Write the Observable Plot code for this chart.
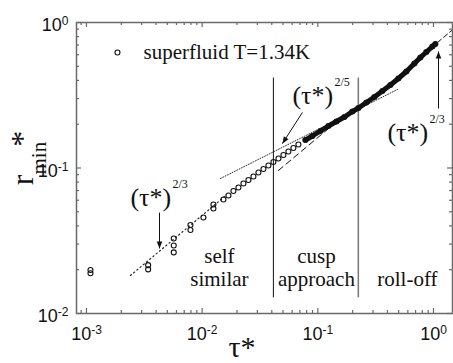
<!DOCTYPE html>
<html><head><meta charset="utf-8">
<script src="https://cdn.jsdelivr.net/npm/d3@7"></script>
<script src="https://cdn.jsdelivr.net/npm/@observablehq/plot@0.6"></script>
<style>body{margin:0;background:#fff;}</style>
</head><body><div id="chart"></div>
<script>
// ---- data ----
const tau = [0.001083,0.001083, 0.003414,0.003414, 0.005682,0.005682,0.005682, 0.007922,0.007922, 0.01026, 0.01252,0.01252,
  0.01528,0.01688,0.01864,0.02059,0.02275,0.02513,0.02776,0.03066,0.03387,0.03741,0.04132,0.04565,0.05042,0.05569,0.06152,0.06796,
  0.07812,0.08982,0.1053,0.1235,0.1448,0.1698,0.1991,0.2244,0.2630,0.3084,0.3616,0.4240,0.4971,0.5830,0.6835,0.7705,0.8682,0.9782,1.038];
const rmin = [0.0189,0.0199, 0.0201,0.0215, 0.0263,0.0293,0.0328, 0.0375,0.0406, 0.0457, 0.0527,0.0561,
  0.0607,0.0647,0.0695,0.0735,0.0782,0.0827,0.0874,0.0931,0.0984,0.1040,0.1100,0.1162,0.1228,0.1298,0.1372,0.1450,
  0.1557,0.1660,0.1796,0.1943,0.2088,0.2241,0.2444,0.2585,0.2819,0.3076,0.3382,0.3719,0.4122,0.4605,0.5226,0.5746,0.6269,0.6840,0.7115];

// power-law guide lines (endpoints)
const fit23low = [{t:0.0024, r:0.01825},{t:0.016, r:0.0646}];
const fit25    = [{t:0.0144, r:0.0847},{t:0.49, r:0.347}];
const fit23mid = [{t:0.0456, r:0.0961},{t:0.15, r:0.212}];
const fit23top = [{t:0.75, r:0.571},{t:1.46, r:0.890}];

// regime boundaries
const dividers = [0.0413, 0.224];
const dividerSpan = [0.0128, 0.415];

// arrows
const arrows = [
  {t1:0.00428, r1:0.0494, t2:0.00428, r2:0.0280},
  {t1:0.0736, r1:0.241, t2:0.0494, r2:0.147},
  {t1:1.105, r1:0.2565, t2:1.105, r2:0.632}
];
// annotation labels
const powerLabels = [
  {t:0.0024, r:0.0627, base:"(τ*)", exp:"2/3"},
  {t:0.0603, r:0.315, base:"(τ*)", exp:"2/5"},
  {t:0.3996, r:0.1754, base:"(τ*)", exp:"2/3"}
];
const regimes = [
  {t:0.01411, r:0.0209, label:"self\nsimilar"},
  {t:0.0973, r:0.0209, label:"cusp\napproach"},
  {t:0.5948, r:0.0174, label:"roll-off"}
];
const legend = [{t:0.001854, r:0.622, label:"superfluid T=1.34K"}];

// ticks
const xMajor = [0.001, 0.01, 0.1, 1];
const xMinor = [0.0009, 0.002,0.003,0.004,0.005,0.006,0.007,0.008,0.009,
  0.02,0.03,0.04,0.05,0.06,0.07,0.08,0.09, 0.2,0.3,0.4,0.5,0.6,0.7,0.8,0.9];
const yMajor = [0.01, 0.1, 1];
const yMinor = [0.02,0.03,0.04,0.05,0.06,0.07,0.08,0.09, 0.2,0.3,0.4,0.5,0.6,0.7,0.8,0.9];

// ---- chart ----
const W = 453, H = 363, mT = 22, mR = 1, mB = 50, mL = 76;
const pw = W - mL - mR, ph = H - mT - mB;
const axisColor = "#6a6a6a";
const serif = "'Liberation Serif', 'Times New Roman', serif";
const sans = "'Liberation Sans', Arial, sans-serif";
const pts = tau.map((t, i) => ({t, r: rmin[i]}));
const expFmt = d => String(Math.round(Math.log10(d)));

const chart = Plot.plot({
  width: W, height: H,
  marginTop: mT, marginRight: mR, marginBottom: mB, marginLeft: mL,
  x: {type: "log", domain: [8.2e-4, 1.46]},
  y: {type: "log", domain: [0.01, 1]},
  style: {background: "white", fontFamily: sans, color: "#111"},
  marks: [
    Plot.ruleX([dividers[0]], {y1: dividerSpan[0], y2: dividerSpan[1], stroke: "#111", strokeWidth: 1}),
    Plot.ruleX([dividers[1]], {y1: dividerSpan[0], y2: dividerSpan[1], stroke: "#777", strokeWidth: 1.5}),
    Plot.line(fit23low, {x: "t", y: "r", stroke: "#222", strokeWidth: 1.2, strokeDasharray: "1.2,3"}),
    Plot.line(fit25, {x: "t", y: "r", stroke: "#333", strokeWidth: 1, strokeDasharray: "1,1.6"}),
    Plot.line(fit23mid, {x: "t", y: "r", stroke: "#111", strokeWidth: 1, strokeDasharray: "6,4"}),
    Plot.line(fit23top, {x: "t", y: "r", stroke: "#111", strokeWidth: 1, strokeDasharray: "5,3"}),
    Plot.line(pts.filter(d => d.t > 0.07), {x: "t", y: "r", stroke: "#111", strokeWidth: 5}),
    Plot.dot(pts, {x: "t", y: "r", r: 2.5, stroke: "#111", strokeWidth: 1.1, fill: "none"}),
    Plot.link(arrows, {x1: "t1", y1: "r1", x2: "t2", y2: "r2", stroke: "#111", strokeWidth: 1}),
    Plot.text(powerLabels, {x: "t", y: "r", text: "base", textAnchor: "start", fontFamily: serif, fontSize: 26, letterSpacing: 1.5, fill: "#111"}),
    Plot.text(powerLabels, {x: "t", y: "r", text: "exp", textAnchor: "start", dx: 42, dy: -13, fontFamily: serif, fontSize: 12, fill: "#111"}),
    Plot.text(regimes, {x: "t", y: "r", text: "label", fontFamily: serif, fontSize: 21, lineHeight: 1.1, fill: "#111"}),
    Plot.dot(legend, {x: "t", y: "r", r: 2.5, stroke: "#111", strokeWidth: 1.1, fill: "none"}),
    Plot.text(legend, {x: "t", y: "r", text: "label", dx: 26, textAnchor: "start", fontFamily: serif, fontSize: 21, fill: "#111"}),
    // inward ticks
    Plot.tickX(xMajor, {x: d => d, insetTop: ph - 5, stroke: axisColor, strokeWidth: 1.2}),
    Plot.tickX(xMinor, {x: d => d, insetTop: ph - 3, stroke: axisColor, strokeWidth: 1.2}),
    Plot.tickX(xMajor, {x: d => d, insetBottom: ph - 5, stroke: axisColor, strokeWidth: 1.2}),
    Plot.tickX(xMinor, {x: d => d, insetBottom: ph - 3, stroke: axisColor, strokeWidth: 1.2}),
    Plot.tickY(yMajor, {y: d => d, insetRight: pw - 5, stroke: axisColor, strokeWidth: 1.2}),
    Plot.tickY(yMinor, {y: d => d, insetRight: pw - 3, stroke: axisColor, strokeWidth: 1.2}),
    Plot.tickY(yMajor, {y: d => d, insetLeft: pw - 5, stroke: axisColor, strokeWidth: 1.2}),
    Plot.tickY(yMinor, {y: d => d, insetLeft: pw - 3, stroke: axisColor, strokeWidth: 1.2}),
    Plot.frame({stroke: axisColor, strokeWidth: 1.5}),
    Plot.axisX(xMajor, {anchor: "bottom", tickSize: 0, tickPadding: 14, fontSize: 18, tickFormat: expFmt, label: null, fill: "#111"}),
    Plot.axisY(yMajor, {anchor: "left", tickSize: 0, tickPadding: 8, fontSize: 18, tickFormat: expFmt, label: null, dy: 3, fill: "#111"})
  ]
});

document.getElementById("chart").appendChild(chart);
const svg = d3.select(chart);

// superscript exponents on tick labels
svg.selectAll('g[aria-label="x-axis tick label"] text, g[aria-label="y-axis tick label"] text').each(function() {
  const t = d3.select(this);
  const e = t.text();
  t.text(null);
  t.append("tspan").text("10");
  t.append("tspan").attr("dy", "-0.5em").attr("font-size", "12px").text(e);
});

// filled arrowheads
svg.append("defs").append("marker")
  .attr("id", "ahead").attr("viewBox", "0 -5 10 10").attr("refX", 10).attr("refY", 0)
  .attr("markerWidth", 8).attr("markerHeight", 7).attr("markerUnits", "userSpaceOnUse").attr("orient", "auto")
  .append("path").attr("d", "M0,-4L10,0L0,4Z").attr("fill", "#111");
svg.selectAll('g[aria-label="link"] path').attr("marker-end", "url(#ahead)");

// axis titles
svg.append("text").attr("x", 242).attr("y", 357).attr("text-anchor", "middle")
  .attr("font-family", serif).attr("font-size", 30).attr("fill", "#111").text("τ*");
const yt = svg.append("text").attr("transform", "translate(33,158) rotate(-90)")
  .attr("font-family", serif).attr("fill", "#111");
yt.append("tspan").attr("font-size", 32).text("r");
yt.append("tspan").attr("font-size", 21).attr("dy", 13).text("min");
yt.append("tspan").attr("font-size", 32).attr("dy", -13).attr("dx", -5).text("*");
</script>
</body></html>
